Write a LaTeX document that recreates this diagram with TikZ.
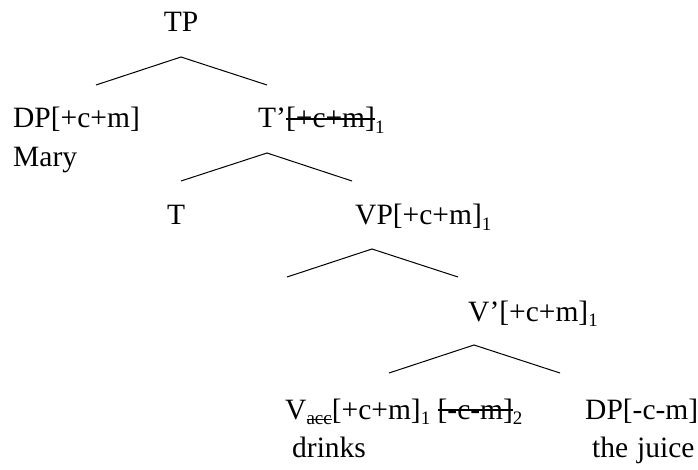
\documentclass[tikz,border=0pt]{standalone}
\usepackage{fontspec}
\setmainfont{Liberation Serif}
\newcommand\stk[1]{\setbox0\hbox{#1}\rlap{\rule[0.28em]{\wd0}{0.055em}}\box0}
\newcommand\sbs[1]{\raisebox{-0.2em}{\fontsize{19}{20}\selectfont #1}}
\begin{document}
\begin{tikzpicture}[x=1pt,y=-1pt,
  lab/.style={anchor=base west,inner sep=0pt,font=\fontsize{29.5}{34}\selectfont},
  br/.style={line width=1pt}]
\useasboundingbox (0,0) rectangle (698,470);
\node[lab,anchor=base] (tp) at (181,32) {TP};
\node[lab] (dp1) at (13,128) {DP[+c+m]};
\node[lab] (tbar) at (258,128) {T’\stk{[+c+m]}\sbs{1}};
\node[lab] (mary) at (13,167) {Mary};
\node[lab] (t) at (167,225) {T};
\node[lab] (vp) at (355,225) {VP[+c+m]\sbs{1}};
\node[lab] (vbar) at (468,321) {V’[+c+m]\sbs{1}};
\node[lab] (v) at (285,419) {V\sbs{\stk{acc}}[+c+m]\sbs{1} \stk{[-c-m]}\sbs{2}};
\node[lab] (dp2) at (585,419) {DP[-c-m]};
\node[lab] (drinks) at (292,457) {drinks};
\node[lab] (juice) at (592,457) {the\hspace{0.05em} juice};
\coordinate (a1) at (181,57);  \coordinate (l1) at (96,85);  \coordinate (r1) at (267,85);
\coordinate (a2) at (267,153); \coordinate (l2) at (181,181); \coordinate (r2) at (352,181);
\coordinate (a3) at (372,249); \coordinate (l3) at (287,277); \coordinate (r3) at (458,277);
\coordinate (a4) at (474,345); \coordinate (l4) at (389,373); \coordinate (r4) at (560,373);
\draw[br] (l1) -- (a1) -- (r1);
\draw[br] (l2) -- (a2) -- (r2);
\draw[br] (l3) -- (a3) -- (r3);
\draw[br] (l4) -- (a4) -- (r4);
\end{tikzpicture}
\end{document}
